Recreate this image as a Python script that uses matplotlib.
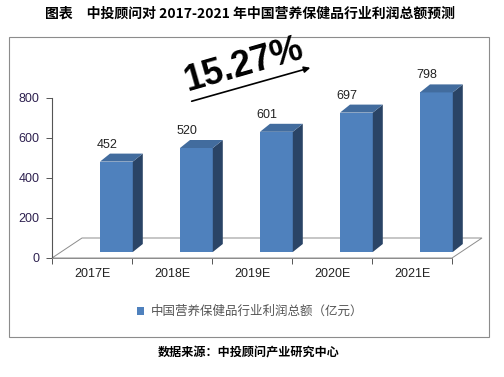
import numpy as np
import matplotlib
matplotlib.use('Agg')
import matplotlib.pyplot as plt
from matplotlib.patches import Polygon, Rectangle

plt.rcParams['font.family'] = ['Liberation Sans', 'Noto Sans CJK SC', 'DejaVu Sans']

# 数据
years = ['2017E', '2018E', '2019E', '2020E', '2021E']
profit = [452, 520, 601, 697, 798]
title = '图表　中投顾问对 2017-2021 年中国营养保健品行业利润总额预测'
legend_label = '中国营养保健品行业利润总额（亿元）'
source = '数据来源：中投顾问产业研究中心'
growth = '15.27%'

front_c = '#4F81BD'
side_c = '#2A4466'
top_c = '#426C9E'

fig = plt.figure(figsize=(5.04, 3.77), dpi=100)
ax = fig.add_axes([52 / 504, 119 / 377, 400 / 504, 160 / 377])

# 伪3D参数 (x: 类别单位, y: 数据单位)
floor_dx, floor_dy = 0.375, 100
off_x, off_y = 0.1, 30
bw = 0.41
dep_x, dep_y = 0.125, 40

x = np.arange(len(years))

# 底面
fl = [(-0.5, 0), (4.5, 0), (4.5 + floor_dx, floor_dy), (-0.5 + floor_dx, floor_dy)]
ax.add_patch(Polygon(fl, closed=True, fill=False, edgecolor='#8C8C8C', lw=0.7, clip_on=False))

bars = ax.bar(x + off_x + bw / 2, profit, width=bw, bottom=off_y, color=front_c,
              edgecolor='none', clip_on=False, zorder=3, label=legend_label)
for xi, v in zip(x, profit):
    l = xi + off_x
    r = l + bw
    t = v + off_y
    side = [(r, off_y), (r + dep_x, off_y + dep_y), (r + dep_x, t + dep_y), (r, t)]
    top = [(l, t), (r, t), (r + dep_x, t + dep_y), (l + dep_x, t + dep_y)]
    ax.add_patch(Polygon(side, closed=True, facecolor=side_c, edgecolor='none', clip_on=False, zorder=3))
    ax.add_patch(Polygon(top, closed=True, facecolor=top_c, edgecolor='none', clip_on=False, zorder=3))
    ax.text(xi + 0.19, v + 115, str(v), ha='center', va='center', fontsize=9, color='#222222')

ax.set_xlim(-0.5, 4.5)
ax.set_ylim(0, 800)
ax.set_yticks([0, 200, 400, 600, 800])
ax.tick_params(axis='y', labelsize=9, labelcolor='#2E2150', color='#555555', length=4, width=0.7, pad=5)
ax.set_xticks(x)
ax.set_xticklabels(years, fontsize=9, color='#222222')
ax.set_xticks(np.arange(-0.5, 5, 1), minor=True)
ax.tick_params(axis='x', which='major', length=0, pad=7)
ax.tick_params(axis='x', which='minor', length=4, width=0.7, color='#555555')
for s in ['top', 'right']:
    ax.spines[s].set_visible(False)
ax.spines['left'].set_color('#555555')
ax.spines['bottom'].set_color('#8C8C8C')
ax.spines['left'].set_linewidth(0.8)
ax.spines['bottom'].set_linewidth(0.7)
ax.patch.set_alpha(0)

# 图表外框
fig.patches.append(Rectangle((9 / 504, 1 - 337 / 377), 480 / 504, 300 / 377, transform=fig.transFigure,
                             fill=False, edgecolor='#8C8C8C', lw=0.8))

# 增长率标注
fig.text(244 / 504, 1 - 65 / 377, growth, fontsize=26, fontweight='bold', rotation=16,
         ha='center', va='center', color='black')
ax.annotate('', xy=(313 / 504, 1 - 67 / 377), xytext=(189 / 504, 1 - 102 / 377),
            xycoords='figure fraction', textcoords='figure fraction',
            arrowprops=dict(arrowstyle='-|>', color='black', lw=1.2, mutation_scale=9))

fig.legend(handles=[bars], labels=[legend_label], loc='center', bbox_to_anchor=(250 / 504, 1 - 312 / 377),
           frameon=False, fontsize=9, handlelength=0.6, handleheight=0.6, handletextpad=0.5,
           labelcolor='#555555')

fig.text(250 / 504, 1 - 14 / 377, title, fontsize=10, fontweight='bold', ha='center', va='center',
         family=['Noto Sans CJK SC', 'DejaVu Sans'])
fig.text(249 / 504, 1 - 353 / 377, source, fontsize=8.7, fontweight='bold', ha='center', va='center',
         family=['Noto Sans CJK SC', 'DejaVu Sans'])

fig.savefig('out.png', dpi=100)
